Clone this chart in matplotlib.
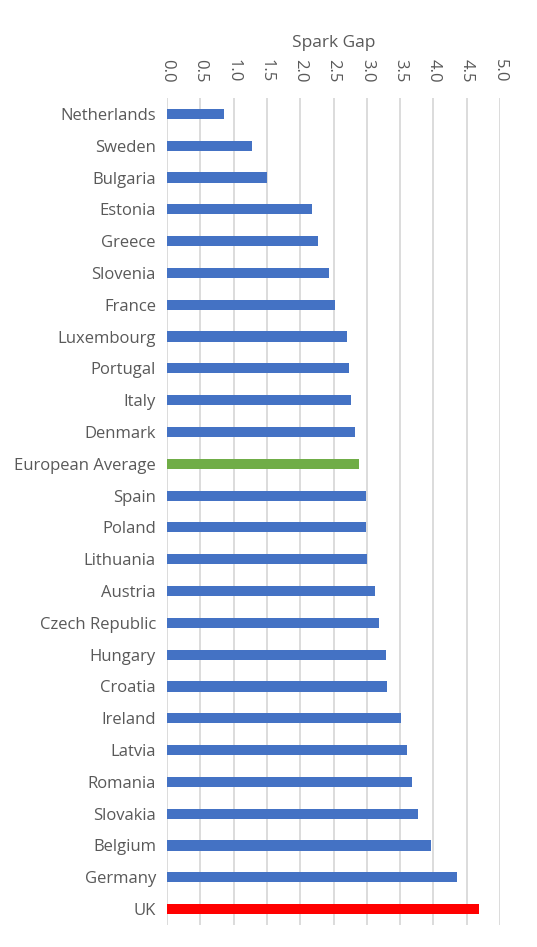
import matplotlib
matplotlib.use("Agg")
import matplotlib.pyplot as plt

categories = ["Netherlands", "Sweden", "Bulgaria", "Estonia", "Greece", "Slovenia",
              "France", "Luxembourg", "Portugal", "Italy", "Denmark", "European Average",
              "Spain", "Poland", "Lithuania", "Austria", "Czech Republic", "Hungary",
              "Croatia", "Ireland", "Latvia", "Romania", "Slovakia", "Belgium",
              "Germany", "UK"]
values = [0.85, 1.27, 1.50, 2.17, 2.26, 2.43, 2.52, 2.70, 2.73, 2.77, 2.83, 2.89,
          2.99, 2.99, 3.00, 3.12, 3.18, 3.29, 3.31, 3.52, 3.60, 3.68, 3.77, 3.97,
          4.36, 4.69]
ticks = [0.0, 0.5, 1.0, 1.5, 2.0, 2.5, 3.0, 3.5, 4.0, 4.5, 5.0]
tick_labels = ["0.0", "0.5", "1.0", "1.5", "2.0", "2.5", "3.0", "3.5", "4.0", "4.5", "5.0"]
title = "Spark Gap"

plt.rcParams['font.family'] = ['Open Sans', 'DejaVu Sans']
text_col = "#595959"

colors = []
for c in categories:
    if c == "European Average":
        colors.append("#70AD47")
    elif c == "UK":
        colors.append("#FF0000")
    else:
        colors.append("#4472C4")

fig = plt.figure(figsize=(5.37, 9.47), dpi=100)
ax = fig.add_axes([167/537, 1 - 925/947, (500-167)/537, (925-98)/947])

ypos = list(range(len(categories)))
ax.barh(ypos, values, height=0.32, color=colors, zorder=3)
ax.set_ylim(len(categories) - 0.5, -0.5)
ax.set_xlim(0, 5.0)
ax.set_yticks(ypos)
ax.set_yticklabels(categories, fontsize=12, color=text_col)
ax.set_xticks(ticks)
ax.set_xticklabels(tick_labels, rotation=-90, fontsize=12, color=text_col)
ax.xaxis.tick_top()
ax.xaxis.set_label_position('top')
ax.set_xlabel(title, fontsize=12.5, color=text_col, labelpad=9)
ax.tick_params(axis='y', length=0, pad=8)
ax.tick_params(axis='x', length=0, pad=11)
ax.grid(axis='x', color='#D9D9D9', linewidth=1.3, zorder=0)
for s in ax.spines.values():
    s.set_visible(False)

fig.savefig("out.png", dpi=100)
